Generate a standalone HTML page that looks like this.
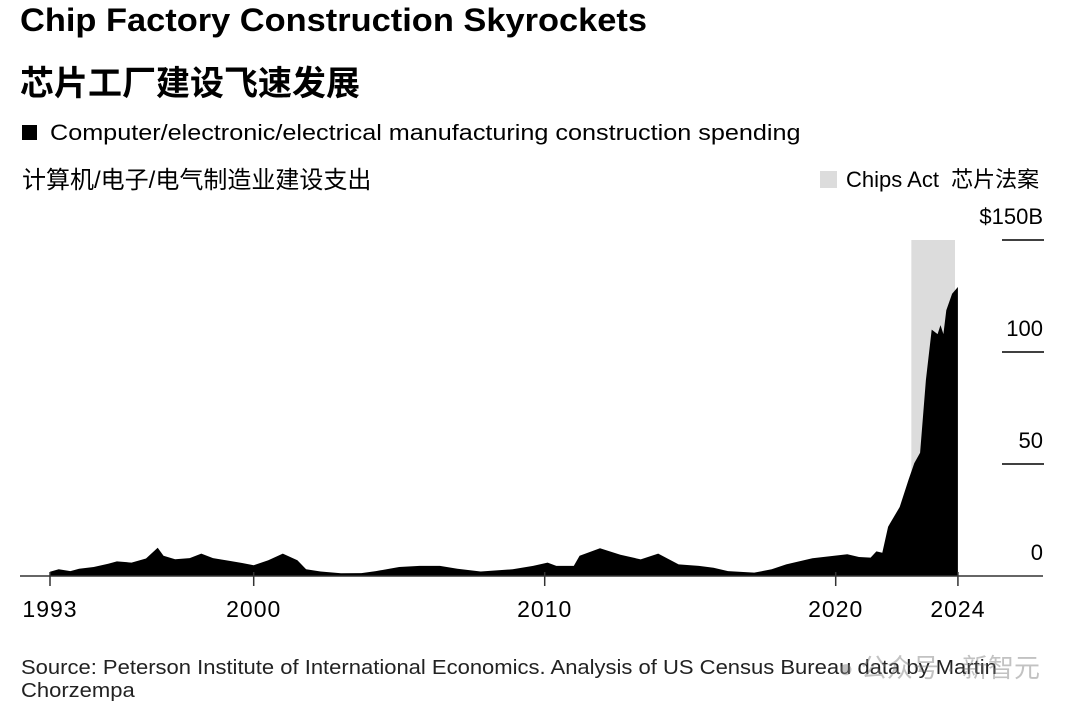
<!DOCTYPE html>
<html><head><meta charset="utf-8"><style>
body{margin:0;width:1080px;height:711px;background:#fff;overflow:hidden;font-family:"Liberation Sans","Noto Sans CJK SC",sans-serif;color:#000;position:relative}
.t{position:absolute;white-space:nowrap;transform-origin:0 0}
</style></head><body>
<div class="t" style="left:20px;top:2px;font-size:32px;font-weight:bold;transform:scaleX(1.075)">Chip Factory Construction Skyrockets</div>
<div class="t" style="left:20px;top:56px;font-size:34px;font-weight:bold">芯片工厂建设飞速发展</div>
<div class="t" style="left:22px;top:120px;font-size:22px"><span style="display:inline-block;width:15px;height:15px;background:#000;margin-right:13px"></span><span style="display:inline-block;transform:scaleX(1.145);transform-origin:0 0">Computer/electronic/electrical manufacturing construction spending</span></div>
<div class="t" style="left:22px;top:160px;font-size:24px">计算机/电子/电气制造业建设支出</div>
<div class="t" style="left:820px;top:162px;font-size:22px"><span style="display:inline-block;width:17px;height:17px;background:#dcdcdc;margin-right:9px;vertical-align:-1px"></span>Chips Act&nbsp; 芯片法案</div>
<svg id="chart" width="1080" height="711" style="position:absolute;left:0;top:0"></svg>
<div class="t" style="left:21px;top:657px;font-size:20px;line-height:23px;color:#222;transform:scaleX(1.1)">Source: Peterson Institute of International Economics. Analysis of US Census Bureau data by Martin<br>Chorzempa</div>
<div class="t" style="left:838px;top:648px;font-size:26px;color:rgba(120,120,120,0.45)">● 公众号 · 新智元</div>
<script>
const years=[1993.0,1993.3,1993.7,1994.0,1994.5,1995.0,1995.3,1995.8,1996.3,1996.7,1996.9,1997.3,1997.8,1998.2,1998.6,1999.2,1999.6,2000.0,2000.5,2001.0,2001.5,2001.8,2002.3,2003.0,2003.7,2004.2,2005.0,2005.7,2006.4,2007.0,2007.8,2008.9,2009.6,2010.1,2010.4,2011.0,2011.2,2011.9,2012.6,2013.3,2013.9,2014.6,2015.3,2015.8,2016.3,2017.2,2017.8,2018.3,2019.2,2020.4,2020.8,2021.2,2021.4,2021.6,2021.8,2022.2,2022.5,2022.7,2022.9,2023.1,2023.3,2023.5,2023.6,2023.7,2023.8,2024.0,2024.2];
const values=[1.9,3.0,2.2,3.2,4.0,5.5,6.5,6.0,7.8,12.6,9.0,7.5,8.0,10.0,8.0,6.7,5.8,4.8,7.0,10.0,7.0,3.0,2.0,1.2,1.3,2.2,4.0,4.5,4.5,3.2,2.0,3.0,4.5,6.0,4.5,4.5,9.0,12.4,9.5,7.4,10.0,5.2,4.5,3.7,2.2,1.5,3.0,5.2,7.9,9.7,8.5,8.2,11.0,10.4,22.0,30.8,42.9,50.4,55.0,87.5,110.0,108.0,112.0,108.0,118.6,126.0,129.0];
const yTicks=[0,50,100,150];
const yTickLabels=["0","50","100","$150B"];
const xTicks=[1993,2000,2010,2020,2024];
const chipsAct=[2022.6,2024.1];
const NS="http://www.w3.org/2000/svg";
const svg=document.getElementById('chart');
const x=y=>50+(y-1993)*29.1;
const yv=v=>576-v*2.24;
function mk(tag,attrs){const e=document.createElementNS(NS,tag);for(const k in attrs)e.setAttribute(k,attrs[k]);svg.appendChild(e);return e;}
const band=mk('rect',{x:x(chipsAct[0]),y:yv(150),width:x(chipsAct[1])-x(chipsAct[0]),height:yv(0)-yv(150),fill:'#dcdcdc'});


let d='M'+x(years[0])+','+yv(0);
years.forEach((yr,i)=>{d+=' L'+x(yr).toFixed(1)+','+yv(values[i]).toFixed(1);});
d+=' L'+x(years[years.length-1]).toFixed(1)+','+yv(0)+' Z';
const area=mk('path',{d:d,fill:'#000'});


yTicks.forEach((v,i)=>{
  if(v>0){const g=mk('line',{x1:1002,x2:1044,y1:yv(v),y2:yv(v),stroke:'#000','stroke-width':1.5});
  
  }
  const t=mk('text',{x:1043,y:yv(v)-16,'text-anchor':'end','font-size':22,'font-family':'Liberation Sans, sans-serif'});
  t.textContent=yTickLabels[i];
  
  
});
const base=mk('line',{x1:20,x2:1043,y1:576,y2:576,stroke:'#333','stroke-width':1.5});


xTicks.forEach(yr=>{
  const xx=yr===2024?x(2024.2):x(yr);
  const tk=mk('line',{x1:xx,x2:xx,y1:572,y2:586,stroke:'#333','stroke-width':1.5});
  
  
  const t=mk('text',{x:xx,y:617,'text-anchor':'middle','font-size':23,'letter-spacing':1,'font-family':'Liberation Sans, sans-serif'});
  t.textContent=yr;
  
  
});
</script>
</body></html>
